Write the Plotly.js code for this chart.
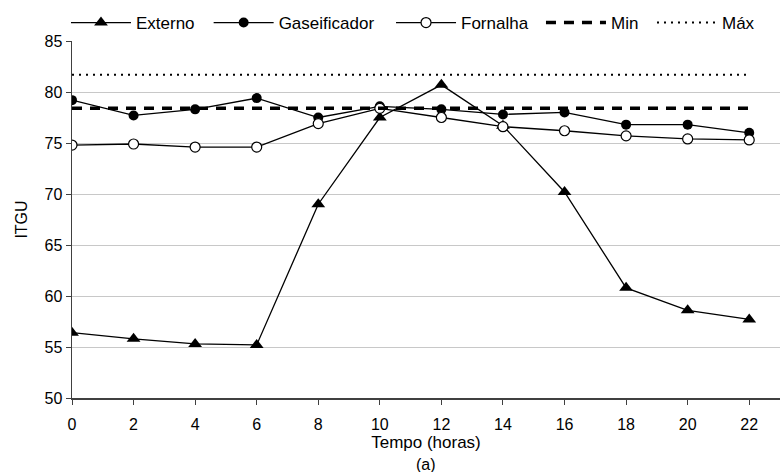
<!DOCTYPE html>
<html>
<head>
<meta charset="utf-8">
<script src="https://cdn.plot.ly/plotly-3.0.1.min.js"></script>
<style>html,body{margin:0;padding:0;background:#fff;}#chart{width:784px;height:472px;}</style>
</head>
<body>
<div id="chart"></div>
<script>
const horas = [0, 2, 4, 6, 8, 10, 12, 14, 16, 18, 20, 22];
const externo = [56.4, 55.8, 55.3, 55.2, 69.0, 77.5, 80.7, 76.7, 70.2, 60.8, 58.6, 57.7];
const gaseificador = [79.2, 77.7, 78.3, 79.4, 77.5, 78.6, 78.3, 77.8, 78.0, 76.8, 76.8, 76.0];
const fornalha = [74.8, 74.9, 74.6, 74.6, 76.9, 78.4, 77.5, 76.6, 76.2, 75.7, 75.4, 75.3];
const minVal = 78.4;
const maxVal = 81.7;
const minLine = horas.map(() => minVal);
const maxLine = horas.map(() => maxVal);

const font = {family: 'Liberation Sans, Arial, sans-serif', size: 16, color: '#000'};
const legFont = {family: 'Liberation Sans, Arial, sans-serif', size: 17, color: '#000'};

const traces = [
  {x: horas, y: externo, name: 'Externo', mode: 'lines+markers', legend: 'legend',
   line: {color: '#000', width: 1.3},
   marker: {symbol: 'triangle-up', size: 12, color: '#000'}},
  {x: horas, y: gaseificador, name: 'Gaseificador', mode: 'lines+markers', legend: 'legend2',
   line: {color: '#000', width: 1.3},
   marker: {symbol: 'circle', size: 10, color: '#000'}},
  {x: horas, y: fornalha, name: 'Fornalha', mode: 'lines+markers', legend: 'legend3',
   line: {color: '#000', width: 1.3},
   marker: {symbol: 'circle', size: 10, color: '#fff', line: {color: '#000', width: 1.2}}},
  {x: horas, y: minLine, name: 'Min', mode: 'lines', legend: 'legend4',
   line: {color: '#000', width: 3.5, dash: '10px,8px'}},
  {x: horas, y: maxLine, name: 'Máx', mode: 'lines', legend: 'legend5',
   line: {color: '#000', width: 2, dash: '2px,5px'}}
];

function leg(x) {
  return {orientation: 'h', x: x, y: 1.0, xanchor: 'left', yanchor: 'bottom',
    font: legFont, itemwidth: 60, bgcolor: 'rgba(0,0,0,0)'};
}

const layout = {
  width: 784, height: 472,
  margin: {l: 72, r: 4, t: 41, b: 74},
  paper_bgcolor: '#fff', plot_bgcolor: '#fff',
  font: font,
  showlegend: true,
  legend: leg(-0.0085),
  legend2: leg(0.193),
  legend3: leg(0.4506),
  legend4: leg(0.6624),
  legend5: leg(0.8192),
  xaxis: {
    range: [0, 23], tickvals: horas, ticktext: horas.map(String),
    showgrid: false, zeroline: false,
    showline: true, linecolor: '#404040', linewidth: 1.5,
    ticks: 'outside', ticklen: 5, tickcolor: '#404040',
    ticklabelstandoff: 6,
    tickfont: font,
    title: {text: 'Tempo (horas)', font: legFont, standoff: 1}
  },
  yaxis: {
    range: [50, 85], dtick: 5,
    showgrid: true, gridcolor: '#c8c8c8', gridwidth: 1,
    zeroline: false,
    showline: true, linecolor: '#404040', linewidth: 1.5,
    ticks: 'outside', ticklen: 5, tickcolor: '#404040',
    tickfont: font,
    title: {text: 'ITGU', font: font, standoff: 13}
  },
  annotations: [
    {text: '(a)', xref: 'paper', yref: 'paper', x: 0.5, y: 0, yshift: -66,
     showarrow: false, font: font, xanchor: 'center', yanchor: 'middle'}
  ]
};

Plotly.newPlot('chart', traces, layout, {displayModeBar: false, staticPlot: true});
</script>
</body>
</html>
